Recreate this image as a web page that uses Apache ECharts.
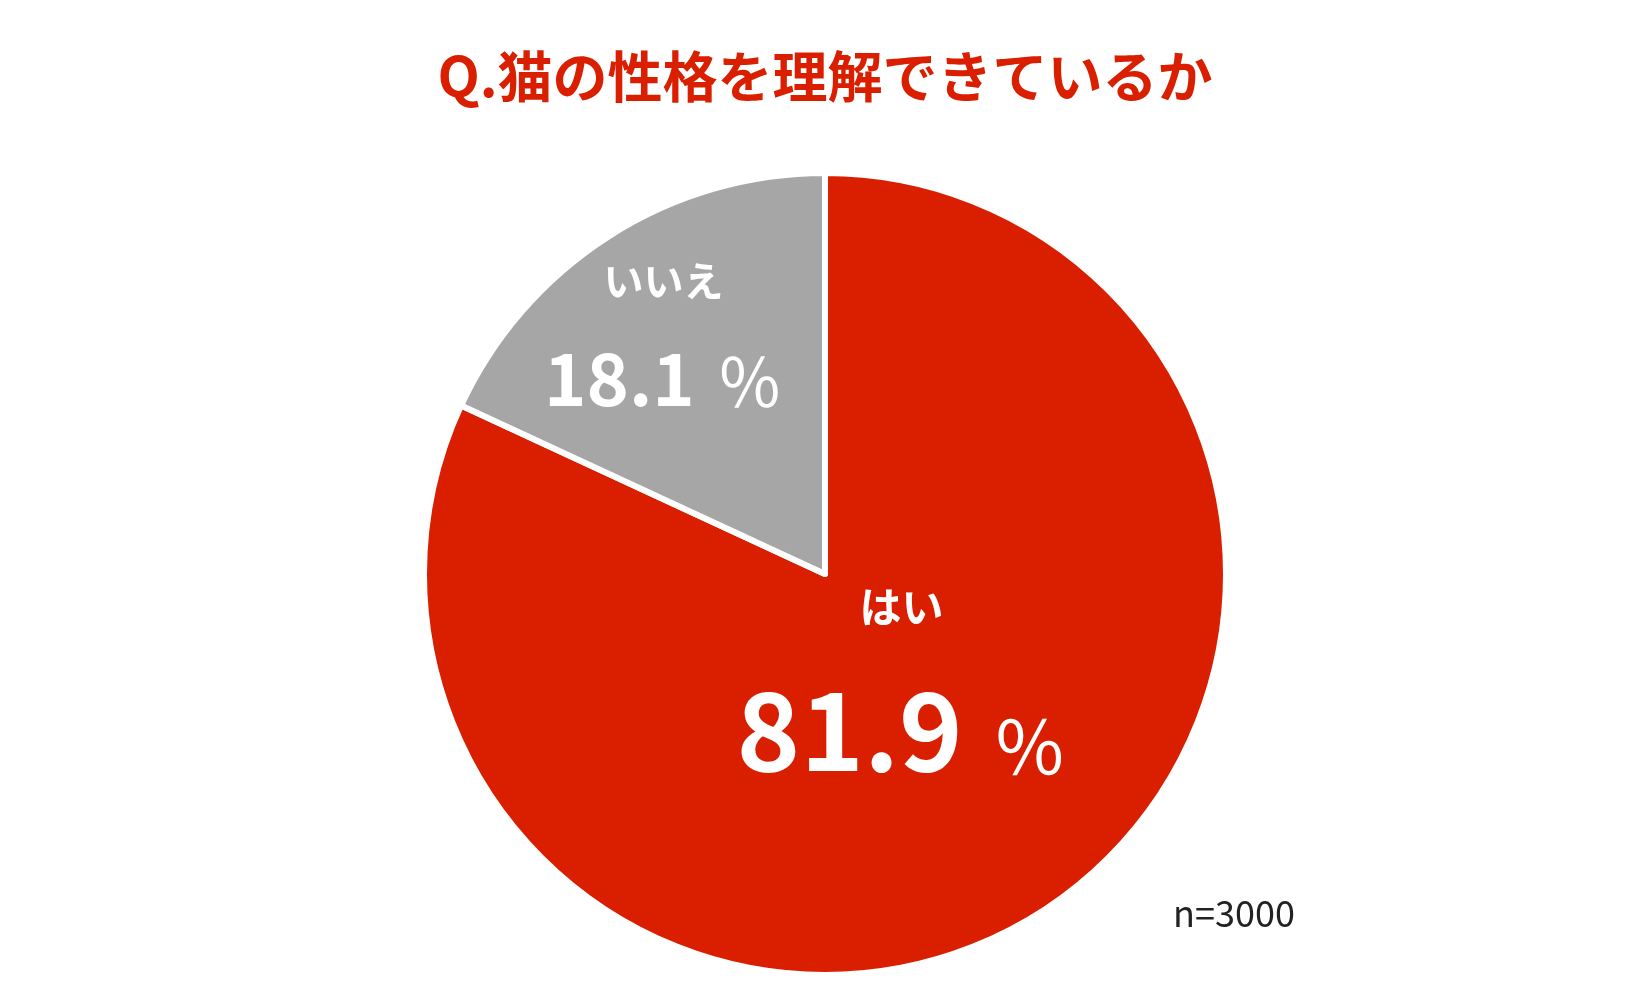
<!DOCTYPE html>
<html>
<head>
<meta charset="utf-8">
<script src="https://cdn.jsdelivr.net/npm/echarts@6/dist/echarts.min.js"></script>
<style>
html,body{margin:0;padding:0;background:#fff;}
#chart{width:1650px;height:990px;}
</style>
</head>
<body>
<div id="chart"></div>
<script>
const titleText = 'Q.猫の性格を理解できているか';
const categories = ['はい', 'いいえ'];
const values = [81.9, 18.1];
const colors = ['#DA1F00', '#A6A6A6'];
const sampleNote = 'n=3000';

const FONT = '"Noto Sans CJK JP", "Noto Sans", sans-serif';
const labelStyles = [
  { nameSize: 42, nameLH: 100, valSize: 108, valLH: 126, pctSize: 74, pctPad: 30, dx: -33, dy: -75 },
  { nameSize: 40, nameLH: 70, valSize: 72, valLH: 99, pctSize: 66, pctPad: 22, dx: -52, dy: -72 }
];

const chart = echarts.init(document.getElementById('chart'));
chart.setOption({
  backgroundColor: '#ffffff',
  animation: false,
  title: [
    {
      text: titleText,
      left: 'center',
      top: 44,
      textStyle: { fontFamily: FONT, fontSize: 55, fontWeight: 'bold', color: '#DA1F00' }
    },
    {
      text: sampleNote,
      left: 1168,
      top: 890,
      textStyle: { fontFamily: FONT, fontSize: 36, fontWeight: 'normal', color: '#222222' }
    }
  ],
  series: [{
    type: 'pie',
    center: [825, 574],
    radius: 401,
    startAngle: 90,
    clockwise: true,
    label: { show: true },
    labelLine: { show: false },
    labelLayout: function (p) {
      const s = labelStyles[p.dataIndex];
      return { dx: s.dx, dy: s.dy };
    },
    itemStyle: { borderColor: '#ffffff', borderWidth: 6 },
    emphasis: { disabled: true },
    data: categories.map(function (c, i) {
      const s = labelStyles[i];
      return {
        name: c,
        value: values[i],
        itemStyle: { color: colors[i] },
        label: {
          show: true,
          position: 'inside',
          formatter: '{n|{b}}\n{v|{c}}{p|％}',
          color: '#ffffff',
          rich: {
            n: { fontFamily: FONT, fontSize: s.nameSize, fontWeight: 'bold', color: '#ffffff', lineHeight: s.nameLH, align: 'center' },
            v: { fontFamily: FONT, fontSize: s.valSize, fontWeight: 'bold', color: '#ffffff', lineHeight: s.valLH, verticalAlign: 'bottom' },
            p: { fontFamily: FONT, fontSize: s.pctSize, fontWeight: 'normal', color: '#ffffff', lineHeight: s.valLH, verticalAlign: 'bottom', padding: [0, 0, 0, s.pctPad] }
          }
        }
      };
    })
  }]
});
</script>
</body>
</html>
